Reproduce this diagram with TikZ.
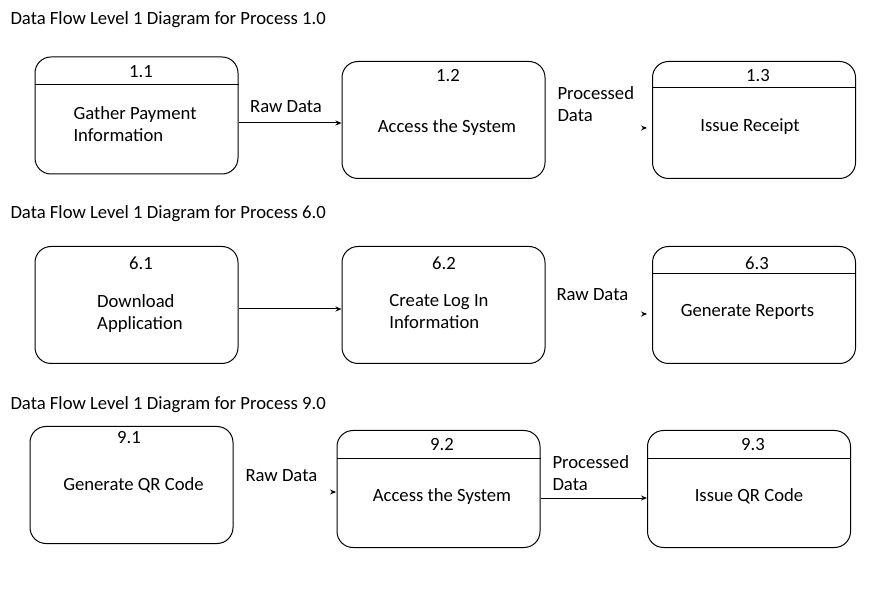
\documentclass[tikz,border=0pt]{standalone}
\usepackage{fontspec}
\setmainfont{Carlito}
\usetikzlibrary{positioning,arrows.meta}
\begin{document}
\begin{tikzpicture}[x=0.75pt,y=-0.75pt,line width=0.75pt,>={Stealth[length=4.5pt,width=3.75pt]},font=\fontsize{14}{16.5}\selectfont,
proc/.style={draw,rounded corners=12pt,minimum width=152.25pt,minimum height=87.75pt,inner sep=0pt},
txt/.style={align=left,inner sep=0pt,yshift=-1.5pt},lab/.style={anchor=west,align=left,inner sep=0pt,yshift=-1.5pt}]
\useasboundingbox (0,0) rectangle (896,616);
\foreach \n/\x/\y in {11/136.5/115.5,12/443.5/120,13/754/120,61/136.5/305,62/443.5/305,63/754/305,91/131.5/485,92/438.5/489,93/749/489}{\node[proc] (p\n) at (\x,\y) {};};
\foreach \n/\t/\x/\y in {11/1.1/141/72,12/1.2/448/76,13/1.3/758/76,61/6.1/141/263,62/6.2/444/263,63/6.3/757/263,91/9.1/129/438,92/9.2/442/445,93/9.3/753/445}{\node[inner sep=0pt] (n\n) at (\x,\y) {\t};};
% divider lines under the numbers
\foreach \n/\y in {11/85,13/88,63/274,92/458,93/458}{\draw (p\n.west |- 0,\y) -- (p\n.east |- 0,\y);};
\node[txt] (t11) at (135,122) {Gather Payment\\Information};
\node[txt] (t12) at (447,126) {Access the System};
\node[txt] (t13) at (750,125) {Issue Receipt};
\node[txt] (t61) at (140,312) {Download\\Application};
\node[txt] (t62) at (439,310) {Create Log In\\Information};
\node[txt] (t63) at (747.5,310) {Generate Reports};
\node[txt] (t91) at (133.5,483) {Generate QR Code};
\node[txt] (t92) at (442,495) {Access the System};
\node[txt] (t93) at (749,494) {Issue QR Code};
\node[lab] (h1) at (10,18) {Data Flow Level 1 Diagram for Process 1.0};
\node[lab] (h6) at (10,212) {Data Flow Level 1 Diagram for Process 6.0};
\node[lab] (h9) at (10,403) {Data Flow Level 1 Diagram for Process 9.0};
\node[txt] (l1) at (286,105) {Raw Data};
\node[lab] (l2) at (557,102) {Processed\\Data};
\node[lab] (l3) at (556,293) {Raw Data};
\node[lab] (l4) at (245,474) {Raw Data};
\node[lab] (l5) at (552,471) {Processed\\Data};
\coordinate (a13) at (647,128);
\coordinate (a63) at (647,314);
\coordinate (a92) at (336,492);
\draw[->] (p11.east |- 0,123) -- (p12.west |- 0,123);
\draw[->] (p61.east |- 0,309) -- (p62.west |- 0,309);
\draw[->] (p92.east |- 0,498) -- (p93.west |- 0,498);
\foreach \a in {a13,a63,a92}{\draw[->] ([xshift=-1pt]\a) -- (\a);};
\end{tikzpicture}
\end{document}
